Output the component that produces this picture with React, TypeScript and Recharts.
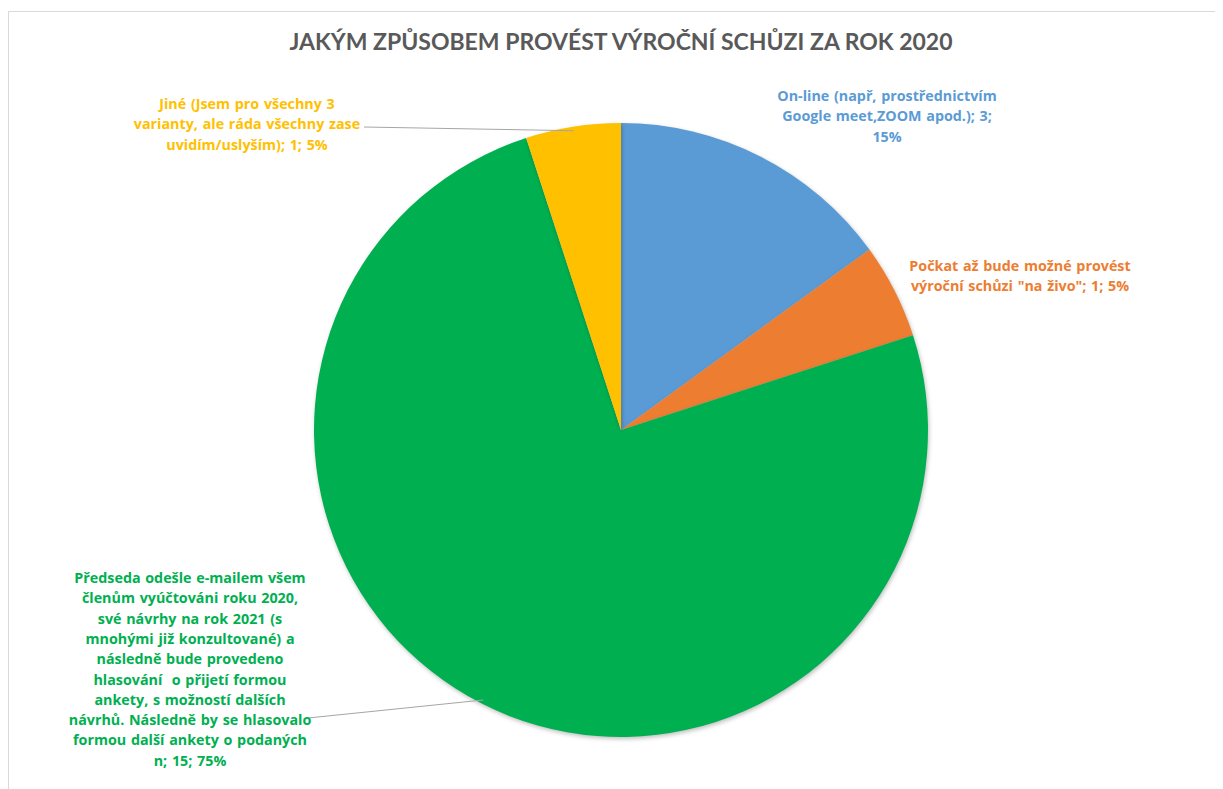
import React from 'react'
import { Cell, Pie, PieChart } from 'recharts'

const TITLE = 'JAKÝM ZPŮSOBEM PROVÉST VÝROČNÍ SCHŮZI ZA ROK 2020'

const CATEGORIES = [
  'On-line (např, prostřednictvím Google meet,ZOOM apod.)',
  'Počkat až bude možné provést výroční schůzi "na živo"',
  'Předseda odešle e-mailem všem členům vyúčtováni roku 2020, své návrhy na rok 2021 (s mnohými již konzultované) a následně bude provedeno hlasování  o přijetí formou ankety, s možností dalších návrhů. Následně by se hlasovalo formou další ankety o podaných n',
  'Jiné (Jsem pro všechny 3 varianty, ale ráda všechny zase uvidím/uslyším)',
]
const COUNTS = [3, 1, 15, 1]
const PERCENTS = ['15%', '5%', '75%', '5%']

// wrapped label text as Excel shows it
const LABEL_LINES = [
  ['On-line (např, prostřednictvím', 'Google meet,ZOOM apod.); 3;', '15%'],
  ['Počkat až bude možné provést', 'výroční schůzi "na živo"; 1; 5%'],
  [
    'Předseda odešle e-mailem všem',
    'členům vyúčtováni roku 2020,',
    'své návrhy na rok 2021 (s',
    'mnohými již konzultované) a',
    'následně bude provedeno',
    'hlasování  o přijetí formou',
    'ankety, s možností dalších',
    'návrhů. Následně by se hlasovalo',
    'formou další ankety o podaných',
    'n; 15; 75%',
  ],
  ['Jiné (Jsem pro všechny 3', 'varianty, ale ráda všechny zase', 'uvidím/uslyším); 1; 5%'],
]

const COLORS = ['#5B9BD5', '#ED7D31', '#00B050', '#FFC000']

// label placement relative to pie centre: centre x, first line y, leader end
const LABEL_LAYOUT = [
  { dx: 266, dy: -335, line: null },
  { dx: 399, dy: -165, line: null },
  { dx: -431, dy: 147, line: { dx: -313, dy: 288 } },
  { dx: -374, dy: -327, line: { dx: -257, dy: -303 } },
]

const data = CATEGORIES.map((name, i) => ({ name, value: COUNTS[i], pct: PERCENTS[i] }))

const TITLE_FONT = 'Lato, "Open Sans", sans-serif'
const LABEL_FONT = '"Open Sans", Lato, sans-serif'
const LINE_H = 20.3
const RADIAN = Math.PI / 180

const renderLabel = (props: Record<string, unknown>) => {
  const cx = Number(props.cx ?? 0)
  const cy = Number(props.cy ?? 0)
  const midAngle = Number(props.midAngle ?? 0)
  const or = Number(props.outerRadius ?? 0)
  const index = Number(props.index ?? 0)
  const lay = LABEL_LAYOUT[index]
  const lines = LABEL_LINES[index]
  const tx = cx + lay.dx
  const ty = cy + lay.dy
  let leader = null
  if (lay.line) {
    const px = cx + (or - 4) * Math.cos(-midAngle * RADIAN)
    const py = cy + (or - 4) * Math.sin(-midAngle * RADIAN)
    leader = (
      <line
        x1={px}
        y1={py}
        x2={cx + lay.line.dx}
        y2={cy + lay.line.dy}
        stroke="#A6A6A6"
        strokeWidth={1}
      />
    )
  }
  return (
    <g key={`lbl-${index}`}>
      {leader}
      <text
        x={tx}
        y={ty}
        textAnchor="middle"
        dominantBaseline="central"
        fill={COLORS[index]}
        fontFamily={LABEL_FONT}
        fontSize={14.3}
        fontWeight={700}
        style={{ wordSpacing: 1 }}
      >
        {lines.map((l, j) => (
          <tspan key={j} x={tx} y={ty + j * LINE_H} style={{ whiteSpace: 'pre' }}>
            {l}
          </tspan>
        ))}
      </text>
    </g>
  )
}

export default function App() {
  return (
    <div style={{ paddingTop: 3 }}>
      <div
        style={{
          position: 'relative',
          width: 1240,
          height: 790,
          borderLeft: '1px solid #D9D9D9',
          borderTop: '1px solid #D9D9D9',
          background: '#fff',
        }}
      >
        <style>{`.pie-shadow .recharts-pie-sector path { filter: drop-shadow(1px 2px 2px rgba(0,0,0,0.25)); }`}</style>
        <div
          style={{
            position: 'absolute',
            left: 0,
            top: 15,
            width: 1224,
            textAlign: 'center',
            fontFamily: TITLE_FONT,
            fontWeight: 700,
            fontSize: 23,
            color: '#595959',
            whiteSpace: 'nowrap',
          }}
        >
          {TITLE}
        </div>
        <PieChart
          width={1224}
          height={776}
          className="pie-shadow"
          margin={{ top: 0, right: 0, bottom: 0, left: 0 }}
          style={{ position: 'absolute', left: 0, top: 0 }}
        >
          <Pie
            data={data}
            dataKey="value"
            nameKey="name"
            cx={612}
            cy={418}
            outerRadius={307}
            startAngle={90}
            endAngle={-270}
            stroke="none"
            isAnimationActive={false}
            labelLine={false}
            label={renderLabel}
          >
            {data.map((d, i) => (
              <Cell key={d.name} fill={COLORS[i]} />
            ))}
          </Pie>
        </PieChart>
      </div>
    </div>
  )
}
